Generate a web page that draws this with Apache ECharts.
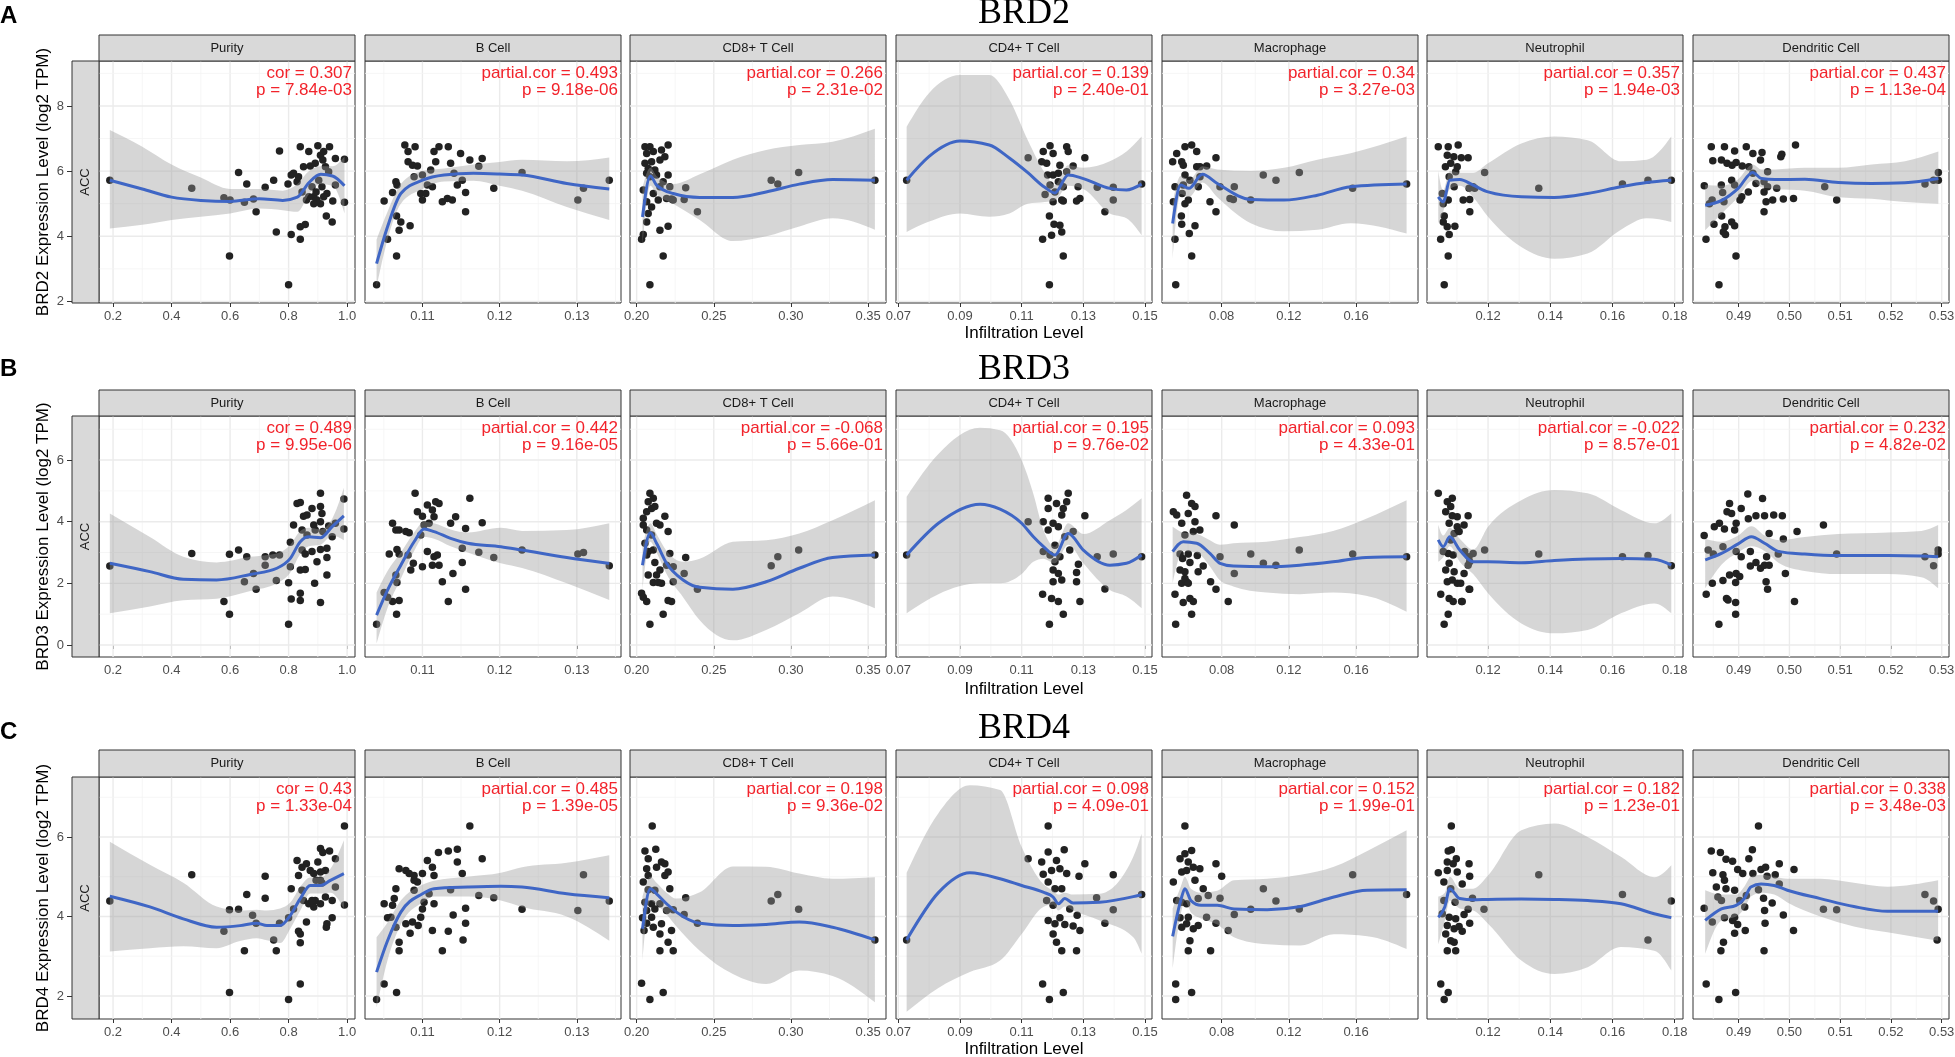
<!DOCTYPE html>
<html><head><meta charset="utf-8">
<script src="https://cdn.jsdelivr.net/npm/echarts@6/dist/echarts.min.js"></script>
<style>html,body{margin:0;padding:0;background:#fff}#c{width:1955px;height:1057px}</style>
</head><body><div id="c"></div>
<script>
// ---------- labels ----------
const genes = ['BRD2', 'BRD3', 'BRD4'];
const rowLetters = ['A', 'B', 'C'];
const cells = ['Purity', 'B Cell', 'CD8+ T Cell', 'CD4+ T Cell', 'Macrophage', 'Neutrophil', 'Dendritic Cell'];
const corA = [['cor = 0.307','p = 7.84e-03'],['partial.cor = 0.493','p = 9.18e-06'],['partial.cor = 0.266','p = 2.31e-02'],['partial.cor = 0.139','p = 2.40e-01'],['partial.cor = 0.34','p = 3.27e-03'],['partial.cor = 0.357','p = 1.94e-03'],['partial.cor = 0.437','p = 1.13e-04']];
const corB = [['cor = 0.489','p = 9.95e-06'],['partial.cor = 0.442','p = 9.16e-05'],['partial.cor = -0.068','p = 5.66e-01'],['partial.cor = 0.195','p = 9.76e-02'],['partial.cor = 0.093','p = 4.33e-01'],['partial.cor = -0.022','p = 8.57e-01'],['partial.cor = 0.232','p = 4.82e-02']];
const corC = [['cor = 0.43','p = 1.33e-04'],['partial.cor = 0.485','p = 1.39e-05'],['partial.cor = 0.198','p = 9.36e-02'],['partial.cor = 0.098','p = 4.09e-01'],['partial.cor = 0.152','p = 1.99e-01'],['partial.cor = 0.182','p = 1.23e-01'],['partial.cor = 0.338','p = 3.48e-03']];

// ---------- axes ----------
const xRanges = [[0.152,1.027],[0.10256,0.13572],[0.1957,0.3616],[0.06925,0.15227],[0.04446,0.1969],[0.10038,0.18266],[0.481,0.53144]];
const xTicks = [[0.2,0.4,0.6,0.8,1.0],[0.11,0.12,0.13],[0.20,0.25,0.30,0.35],[0.07,0.09,0.11,0.13,0.15],[0.08,0.12,0.16],[0.12,0.14,0.16,0.18],[0.49,0.50,0.51,0.52,0.53]];
const xDecimals = [1,2,2,2,2,2,2];
const yRanges = [[1.95,9.38],[-0.39,7.43],[1.42,7.51]];
const yTicks = [[2,4,6,8],[0,2,4,6],[2,4,6]];

// ---------- BRD2 (row A) : points [x,y], fits [x, fit, lower, upper] ----------
const a0pts = [[0.189,5.72],[0.469,5.47],[0.598,3.39],[0.629,5.96],[0.579,5.18],[0.6,5.11],[0.649,5.04],[0.657,5.6],[0.68,5.14],[0.689,4.75],[0.72,5.5],[0.749,5.72],[0.769,6.62],[0.758,4.13],[0.8,2.51],[0.809,4.05],[0.84,3.91],[0.84,4.29],[0.857,4.36],[0.798,5.6],[0.809,5.88],[0.84,6.75],[0.869,6.6],[0.9,6.78],[0.94,6.75],[0.96,6.39],[0.991,6.36],[0.991,5.04],[0.951,5.08],[0.929,4.62],[0.949,4.44],[0.909,5.0],[0.861,5.11],[0.886,5.21],[0.846,5.36],[0.829,5.67],[0.851,6.13],[0.874,6.16],[0.891,6.24],[0.909,6.49],[0.92,6.6],[0.926,6.13],[0.903,5.72],[0.914,5.52],[0.931,5.31],[0.96,5.57],[0.937,5.98],[0.88,5.52],[0.894,5.36],[0.869,5.21],[0.817,5.93],[0.834,5.83],[0.897,5.11],[0.92,5.21],[0.886,5.0],[0.917,6.34]];
const a0fit = [[0.189,5.72,4.24,7.26],[0.3,5.45,4.35,6.75],[0.4,5.2,4.5,6.2],[0.5,5.1,4.6,5.8],[0.6,5.07,4.7,5.45],[0.7,5.15,4.85,5.45],[0.78,5.1,4.8,5.4],[0.83,5.2,4.75,5.6],[0.87,5.65,5.3,6.0],[0.91,5.9,5.6,6.15],[0.95,5.85,5.55,6.15],[0.991,5.55,4.7,6.45]];
const a1pts = [[0.10406,2.51],[0.10504,5.08],[0.10548,3.91],[0.10665,3.39],[0.10665,4.62],[0.10698,4.18],[0.1072,4.44],[0.1084,4.32],[0.10613,5.34],[0.10656,5.67],[0.1067,5.57],[0.10772,6.8],[0.10814,6.6],[0.10905,6.75],[0.10814,6.29],[0.10871,6.18],[0.10935,6.16],[0.11,5.88],[0.10892,5.83],[0.10978,5.31],[0.11,5.11],[0.11043,5.31],[0.11129,5.52],[0.1115,6.6],[0.11214,6.75],[0.11335,6.75],[0.11172,6.29],[0.11107,6.03],[0.11258,5.06],[0.11323,5.16],[0.11387,5.11],[0.11365,6.24],[0.11494,6.54],[0.11452,5.57],[0.11559,5.34],[0.11559,4.75],[0.11614,6.34],[0.11774,6.39],[0.1173,6.15],[0.11516,5.72],[0.11924,5.47],[0.11409,5.93],[0.11064,5.57],[0.1229,5.96],[0.13013,5.11],[0.13086,5.47],[0.1342,5.72]];
const a1fit = [[0.10406,3.16,2.45,3.9],[0.10548,4.29,3.9,4.75],[0.1072,5.31,5.0,5.6],[0.11,5.72,5.45,6.0],[0.1128,5.88,5.68,6.08],[0.1166,5.93,5.7,6.2],[0.12,5.91,5.55,6.28],[0.1229,5.88,5.4,6.35],[0.1287,5.62,4.9,6.3],[0.1342,5.45,4.5,6.42]];
const a2pts = [[0.2086,2.51],[0.2172,3.39],[0.2032,3.91],[0.2043,4.05],[0.2151,4.18],[0.2204,4.31],[0.2065,4.44],[0.2075,4.7],[0.2065,5.06],[0.2043,5.42],[0.2108,5.31],[0.214,5.11],[0.2194,5.16],[0.2237,5.11],[0.2215,5.52],[0.2172,5.67],[0.2086,5.83],[0.2065,5.93],[0.2129,5.88],[0.2204,5.88],[0.2054,6.24],[0.2097,6.29],[0.2151,6.34],[0.2183,6.44],[0.2065,6.54],[0.2108,6.6],[0.2161,6.65],[0.2054,6.75],[0.2086,6.75],[0.2204,6.8],[0.2075,6.08],[0.2118,6.03],[0.2318,5.49],[0.2308,5.13],[0.2394,4.75],[0.2226,5.14],[0.2872,5.72],[0.2915,5.6],[0.305,5.96],[0.3544,5.72],[0.2151,5.52],[0.2097,4.9]];
const a2fit = [[0.2038,4.59,3.7,5.5],[0.2089,5.85,5.55,6.1],[0.2129,5.57,5.3,5.85],[0.2237,5.31,5.0,5.6],[0.2409,5.19,4.5,5.9],[0.2624,5.19,3.85,6.35],[0.2839,5.36,4.0,6.65],[0.3054,5.6,4.3,6.8],[0.327,5.74,4.55,6.9],[0.3544,5.72,4.2,7.3]];
const a3pts = [[0.0727,5.72],[0.1121,6.41],[0.117,6.6],[0.1192,6.78],[0.1202,6.54],[0.1181,6.24],[0.1165,6.29],[0.1224,6.18],[0.1246,6.75],[0.1251,6.6],[0.1305,6.41],[0.1267,6.16],[0.1202,5.88],[0.1219,5.93],[0.1192,5.57],[0.1176,5.28],[0.1208,5.36],[0.1235,5.52],[0.123,5.11],[0.1235,5.08],[0.1202,5.06],[0.1283,5.52],[0.1289,5.16],[0.1278,5.08],[0.1345,5.5],[0.1397,5.11],[0.1397,5.5],[0.137,4.75],[0.1489,5.6],[0.119,4.62],[0.1205,4.37],[0.1224,4.34],[0.123,4.13],[0.1197,4.03],[0.1168,3.91],[0.1235,3.39],[0.119,2.51],[0.1219,5.67],[0.1184,5.88],[0.1246,5.98]];
const a3fit = [[0.0727,5.72,4.13,7.36],[0.08,6.45,4.45,8.4],[0.09,6.92,4.7,8.95],[0.0995,6.8,4.6,8.95],[0.106,6.4,4.7,8.2],[0.112,5.95,5.0,6.95],[0.1175,5.5,5.05,5.95],[0.1208,5.33,5.1,5.57],[0.1251,5.88,5.55,6.18],[0.13,5.77,5.45,6.1],[0.1386,5.47,4.7,6.3],[0.144,5.42,4.55,6.6],[0.1489,5.6,4.03,7.06]];
const a4pts = [[0.05262,2.51],[0.06214,3.39],[0.0522,3.91],[0.06071,4.08],[0.06411,4.32],[0.05619,4.37],[0.05599,4.62],[0.0512,5.06],[0.0522,5.52],[0.0508,6.29],[0.05321,6.54],[0.05815,6.75],[0.06214,6.8],[0.06512,6.6],[0.05619,6.29],[0.05714,6.18],[0.06512,6.13],[0.05815,5.88],[0.06708,6.13],[0.07107,6.16],[0.0766,6.41],[0.05714,5.57],[0.05646,5.31],[0.06012,5.11],[0.05815,5.0],[0.06607,5.52],[0.07304,5.06],[0.0766,4.75],[0.07899,5.52],[0.08751,5.52],[0.08494,5.16],[0.08693,5.13],[0.09726,5.11],[0.10476,5.88],[0.11232,5.72],[0.12623,5.96],[0.15797,5.47],[0.19012,5.6],[0.06108,5.72],[0.06707,5.83]];
const a4fit = [[0.0508,4.39,3.3,5.0],[0.0556,5.57,5.3,5.85],[0.0605,5.47,5.2,5.72],[0.0685,5.9,5.65,6.15],[0.0774,5.62,5.2,6.05],[0.0973,5.13,4.4,6.0],[0.1171,5.11,4.15,6.1],[0.137,5.26,4.2,6.35],[0.1568,5.52,4.4,6.55],[0.1901,5.6,4.08,7.06]];
const a5pts = [[0.10592,2.51],[0.1072,3.39],[0.10477,3.91],[0.10752,4.05],[0.10688,4.29],[0.10934,4.31],[0.1056,4.44],[0.10592,4.62],[0.11414,4.75],[0.1056,5.0],[0.1072,5.11],[0.112,5.11],[0.1141,5.13],[0.1053,5.31],[0.1091,5.52],[0.104,6.75],[0.1072,6.75],[0.1104,6.8],[0.1069,6.49],[0.109,6.44],[0.1114,6.41],[0.1136,6.41],[0.108,6.24],[0.1101,6.13],[0.1075,5.83],[0.1096,5.98],[0.1189,5.96],[0.1152,5.52],[0.1063,6.13],[0.1363,5.47],[0.1632,5.6],[0.1714,5.72],[0.1789,5.72],[0.1139,5.47],[0.1157,5.47]];
const a5fit = [[0.104,5.21,4.4,6.0],[0.1056,5.06,4.75,5.4],[0.1077,5.72,5.45,6.0],[0.1109,5.74,5.55,5.95],[0.1152,5.57,5.2,5.95],[0.12,5.36,4.6,6.24],[0.1307,5.21,3.67,6.85],[0.1413,5.19,3.31,7.06],[0.152,5.31,3.47,6.95],[0.1627,5.52,4.2,6.3],[0.171,5.65,4.55,6.35],[0.1789,5.72,4.44,7.06]];
const a6pts = [[0.48322,5.55],[0.48356,3.91],[0.48612,2.51],[0.48513,4.37],[0.48665,4.62],[0.48697,4.13],[0.4873,4.29],[0.4874,4.05],[0.48862,4.44],[0.4892,4.32],[0.48947,3.39],[0.48477,5.11],[0.48424,5.0],[0.4871,5.06],[0.48658,5.57],[0.48684,5.34],[0.48862,5.72],[0.4892,5.57],[0.49026,5.11],[0.4906,5.21],[0.4919,5.36],[0.4846,6.75],[0.4872,6.75],[0.4892,6.62],[0.4915,6.75],[0.4928,6.54],[0.4946,6.57],[0.4943,6.34],[0.4849,6.32],[0.4866,6.34],[0.4877,6.24],[0.4887,6.18],[0.4895,6.26],[0.4907,6.16],[0.492,6.13],[0.4928,5.93],[0.4934,5.62],[0.495,5.67],[0.4957,5.52],[0.495,5.36],[0.4954,5.06],[0.4967,5.11],[0.495,4.75],[0.4988,5.14],[0.5008,5.16],[0.4983,6.44],[0.4985,6.52],[0.5012,6.8],[0.4957,5.98],[0.4975,5.47],[0.50695,5.52],[0.50931,5.11],[0.52671,5.6],[0.5284,5.72],[0.52934,5.96],[0.52934,5.72]];
const a6fit = [[0.4834,4.95,4.18,5.57],[0.48665,5.1,4.7,5.55],[0.4899,5.47,5.2,5.75],[0.49276,5.96,5.7,6.2],[0.4945,5.77,5.5,6.05],[0.4971,5.74,5.45,6.05],[0.50306,5.75,5.4,6.1],[0.50963,5.65,5.2,6.1],[0.51621,5.62,5.15,6.2],[0.52277,5.64,5.05,6.3],[0.52934,5.77,5.0,6.6]];

// ---------- BRD3 (row B) ----------
const b0pts = [[0.189,2.56],[0.469,2.97],[0.579,1.41],[0.598,1.0],[0.598,2.94],[0.629,3.08],[0.657,2.86],[0.649,2.05],[0.68,2.32],[0.689,1.81],[0.72,2.86],[0.72,2.59],[0.746,2.92],[0.769,2.92],[0.758,2.09],[0.8,0.67],[0.8,2.02],[0.809,1.49],[0.84,1.68],[0.84,1.44],[0.84,2.43],[0.857,2.45],[0.817,3.89],[0.829,4.59],[0.84,4.62],[0.851,4.18],[0.863,4.22],[0.88,4.43],[0.909,4.92],[0.909,4.49],[0.914,4.27],[0.909,4.0],[0.989,4.74],[0.989,3.76],[0.949,3.51],[0.931,3.14],[0.931,2.84],[0.931,2.27],[0.897,2.7],[0.889,2.0],[0.909,1.38],[0.88,3.03],[0.846,3.08],[0.857,2.95],[0.806,2.54],[0.846,3.73],[0.863,3.57],[0.891,3.73],[0.917,3.68],[0.937,3.86],[0.96,3.95],[0.886,3.89],[0.909,3.1],[0.806,3.33]];
const b0fit = [[0.189,2.65,1.03,4.27],[0.326,2.38,1.25,3.5],[0.44,2.13,1.45,2.86],[0.554,2.11,1.5,2.68],[0.669,2.29,1.75,2.86],[0.76,2.49,2.0,2.97],[0.806,2.81,2.35,3.25],[0.84,3.35,2.95,3.7],[0.869,3.51,3.2,3.8],[0.909,3.48,3.25,3.75],[0.949,3.84,3.55,4.1],[0.989,4.19,3.4,5.1]];
const b1pts = [[0.10406,0.67],[0.10504,1.7],[0.10548,1.55],[0.10665,1.0],[0.10613,1.41],[0.10698,1.44],[0.1067,2.03],[0.10656,2.27],[0.10698,2.95],[0.1057,2.95],[0.1067,3.1],[0.10613,3.95],[0.10656,3.73],[0.10698,3.73],[0.10785,3.68],[0.10828,3.64],[0.10814,2.92],[0.10849,2.43],[0.10882,2.65],[0.10905,4.92],[0.10935,4.32],[0.11,4.18],[0.11064,4.54],[0.11129,4.38],[0.11172,4.65],[0.11215,4.59],[0.1115,4.16],[0.11086,3.95],[0.11021,3.89],[0.10978,3.57],[0.11,2.54],[0.11064,3.03],[0.1115,2.86],[0.11129,2.59],[0.11215,2.59],[0.11193,2.92],[0.11258,2.05],[0.11335,1.41],[0.11395,2.32],[0.11365,3.95],[0.1143,4.16],[0.11516,3.14],[0.11516,2.68],[0.11559,1.81],[0.11614,4.76],[0.11774,3.97],[0.1173,3.01],[0.11924,2.84],[0.11559,3.78],[0.1229,3.08],[0.13013,2.95],[0.13086,3.0],[0.1342,2.57]];
const b1fit = [[0.10406,0.97,0.05,1.7],[0.10548,1.78,1.2,2.4],[0.1072,2.59,2.15,3.0],[0.10892,3.35,3.05,3.65],[0.11021,3.76,3.5,4.0],[0.1115,3.68,3.45,3.95],[0.11365,3.46,3.2,3.75],[0.11587,3.3,3.0,3.65],[0.12016,3.19,2.65,3.8],[0.1229,3.08,2.5,3.7],[0.1287,2.84,2.0,3.73],[0.1342,2.65,1.46,3.95]];
const b2pts = [[0.2086,0.67],[0.2172,1.0],[0.2032,1.68],[0.2043,1.55],[0.2065,1.41],[0.2204,1.44],[0.2226,1.41],[0.2108,2.03],[0.214,2.03],[0.2161,2.0],[0.2237,2.05],[0.2075,2.27],[0.2129,2.27],[0.2151,2.43],[0.2118,2.68],[0.2194,2.59],[0.2237,2.54],[0.2308,2.32],[0.2394,1.81],[0.2318,2.84],[0.2215,2.97],[0.2075,3.03],[0.2108,3.08],[0.2054,3.3],[0.2097,3.57],[0.2065,3.73],[0.2043,3.89],[0.2129,3.95],[0.2183,4.18],[0.2065,4.32],[0.2043,4.11],[0.2097,4.43],[0.2118,4.49],[0.2075,4.65],[0.2086,4.92],[0.2108,4.76],[0.2204,3.68],[0.2151,3.89],[0.2065,2.92],[0.2872,2.57],[0.2915,2.86],[0.305,3.08],[0.3544,2.92]];
const b2fit = [[0.2038,2.59,1.8,3.2],[0.2089,3.64,3.35,3.95],[0.2129,3.3,3.0,3.6],[0.2194,2.65,2.3,3.05],[0.2301,2.11,1.55,2.7],[0.2409,1.87,0.8,2.8],[0.2624,1.81,0.15,3.35],[0.2839,2.05,0.49,3.4],[0.3054,2.49,1.03,3.62],[0.327,2.84,1.57,4.05],[0.3544,2.92,1.19,4.7]];
const b3pts = [[0.0727,2.92],[0.1121,4.0],[0.117,4.0],[0.1186,4.76],[0.1213,4.59],[0.1235,4.43],[0.1251,4.92],[0.1246,4.65],[0.123,4.22],[0.1186,4.43],[0.1305,4.19],[0.1267,3.68],[0.1186,3.73],[0.1202,3.95],[0.1219,3.84],[0.117,3.03],[0.1192,2.92],[0.1208,2.7],[0.1224,2.86],[0.1256,3.08],[0.1202,2.43],[0.1219,2.32],[0.1202,2.05],[0.123,2.11],[0.1284,2.62],[0.1278,2.35],[0.1278,2.05],[0.1168,1.65],[0.1197,1.51],[0.1219,1.41],[0.1289,1.41],[0.1235,1.0],[0.119,0.67],[0.1345,2.86],[0.1397,2.95],[0.137,1.82],[0.1489,2.86],[0.1208,3.24],[0.124,3.51]];
const b3fit = [[0.0727,2.92,1.03,4.81],[0.083,3.95,1.65,6.2],[0.0965,4.57,2.0,7.05],[0.103,4.41,2.0,6.97],[0.11,3.95,2.3,6.0],[0.1138,3.51,2.7,4.9],[0.117,3.2,2.8,3.75],[0.1208,2.92,2.65,3.19],[0.1251,3.62,3.25,3.95],[0.13,3.08,2.65,3.6],[0.1386,2.59,1.78,4.05],[0.144,2.65,1.57,4.38],[0.1489,2.92,1.19,4.76]];
const b4pts = [[0.0526,0.67],[0.0621,1.0],[0.0522,1.65],[0.0571,1.38],[0.0611,1.51],[0.0631,1.41],[0.0562,2.0],[0.0591,2.05],[0.0581,2.16],[0.0601,2.0],[0.0552,2.43],[0.0581,2.38],[0.0611,2.68],[0.0567,2.81],[0.0552,2.95],[0.0601,2.95],[0.066,2.38],[0.069,2.56],[0.0734,2.05],[0.0766,1.81],[0.0839,1.41],[0.0875,2.32],[0.079,2.86],[0.0655,2.9],[0.0512,4.32],[0.0532,4.22],[0.0562,3.95],[0.0591,4.86],[0.0621,4.59],[0.0641,4.49],[0.0601,4.27],[0.0581,3.57],[0.0631,3.68],[0.067,3.73],[0.0641,4.0],[0.0766,4.19],[0.0875,3.89],[0.0973,2.95],[0.1048,2.65],[0.1123,2.59],[0.1262,3.08],[0.158,2.95],[0.1901,2.86]];
const b4fit = [[0.0508,3.03,2.0,3.84],[0.0571,3.35,3.05,3.65],[0.0651,3.3,3.0,3.6],[0.073,2.97,2.55,3.4],[0.079,2.65,2.1,3.25],[0.0869,2.56,1.9,3.3],[0.1067,2.54,1.7,3.35],[0.1265,2.59,1.65,3.5],[0.1463,2.7,1.7,3.7],[0.166,2.84,1.6,4.1],[0.1901,2.86,1.08,4.7]];
const b5pts = [[0.1059,0.67],[0.1072,1.0],[0.1048,1.65],[0.1075,1.51],[0.1088,1.41],[0.1115,1.41],[0.1141,1.81],[0.1069,2.05],[0.1085,2.11],[0.1101,2.0],[0.1112,2.0],[0.1064,2.43],[0.1091,2.38],[0.1123,2.32],[0.1075,2.65],[0.1136,2.59],[0.1141,2.7],[0.1056,3.03],[0.1072,2.97],[0.1088,2.92],[0.1125,3.03],[0.1152,2.97],[0.1189,3.08],[0.104,4.92],[0.1069,4.65],[0.1085,4.76],[0.108,4.49],[0.1064,4.32],[0.1085,4.19],[0.1101,4.16],[0.1136,4.19],[0.1075,3.95],[0.1101,3.84],[0.1091,3.62],[0.108,3.41],[0.1107,3.68],[0.1123,3.89],[0.1363,2.95],[0.1632,2.86],[0.1714,2.9],[0.1789,2.57],[0.1139,2.86],[0.1139,1.81],[0.1117,1.41]];
const b5fit = [[0.104,3.41,2.7,3.9],[0.1056,3.19,2.85,3.55],[0.1077,3.51,3.2,3.8],[0.1109,3.08,2.7,3.45],[0.1152,2.7,2.3,3.1],[0.12,2.7,1.68,3.84],[0.1307,2.67,0.7,4.7],[0.1413,2.74,0.38,5.03],[0.152,2.79,0.49,4.92],[0.1627,2.81,1.03,4.38],[0.1734,2.78,1.35,3.95],[0.1789,2.59,1.03,4.27]];
const b6pts = [[0.4832,3.55],[0.4836,1.65],[0.4861,0.67],[0.4848,2.0],[0.4869,2.09],[0.4882,2.27],[0.4895,2.32],[0.4902,2.22],[0.4876,1.51],[0.4879,1.46],[0.4894,1.38],[0.4894,1.0],[0.4894,2.03],[0.484,3.08],[0.485,2.95],[0.4869,3.19],[0.4895,3.03],[0.4905,2.86],[0.4923,3.03],[0.4923,2.56],[0.4934,2.68],[0.4943,2.49],[0.4951,2.59],[0.496,2.59],[0.4955,2.86],[0.4978,2.95],[0.4992,2.32],[0.4954,2.05],[0.4957,1.81],[0.501,1.41],[0.4852,3.84],[0.4862,3.95],[0.4872,3.76],[0.4882,4.59],[0.4877,4.32],[0.4886,4.27],[0.4895,3.95],[0.4892,3.73],[0.4905,4.43],[0.4918,4.9],[0.4947,4.75],[0.4919,4.1],[0.4934,4.19],[0.4951,4.19],[0.4969,4.22],[0.4986,4.19],[0.496,3.62],[0.4988,3.44],[0.5015,3.68],[0.5067,3.89],[0.5093,2.95],[0.5267,2.86],[0.5284,2.57],[0.5293,3.08],[0.5293,2.95]];
const b6fit = [[0.4834,2.76,1.84,3.45],[0.4866,2.97,2.6,3.35],[0.4899,3.28,3.0,3.55],[0.4925,3.51,3.2,3.85],[0.4951,3.3,3.05,3.55],[0.498,3.03,2.65,3.4],[0.503,2.95,2.4,3.5],[0.5096,2.9,2.3,3.6],[0.5194,2.9,2.3,3.65],[0.526,2.89,2.2,3.7],[0.5293,2.86,1.84,3.89]];

// ---------- BRD4 (row C) ----------
const c0pts = [[0.189,4.39],[0.469,5.05],[0.598,2.09],[0.579,3.63],[0.598,4.17],[0.629,4.18],[0.649,3.14],[0.657,4.55],[0.677,4.03],[0.689,3.83],[0.72,5.01],[0.72,4.46],[0.749,3.41],[0.758,3.14],[0.769,3.83],[0.8,1.91],[0.8,3.97],[0.809,4.7],[0.829,5.41],[0.84,2.3],[0.84,3.34],[0.834,3.63],[0.84,3.56],[0.861,3.86],[0.834,5.03],[0.846,5.24],[0.861,5.33],[0.874,5.16],[0.9,5.37],[0.886,5.08],[0.909,5.71],[0.917,5.61],[0.94,5.65],[0.96,5.45],[0.991,6.28],[0.926,5.16],[0.909,5.12],[0.894,4.91],[0.914,4.84],[0.846,4.66],[0.851,4.4],[0.869,4.32],[0.891,4.4],[0.886,4.24],[0.909,4.32],[0.926,4.49],[0.949,4.4],[0.96,4.74],[0.991,4.29],[0.949,3.97],[0.931,3.82],[0.929,3.73],[0.88,4.4],[0.909,4.91],[0.817,4.19]];
const c0fit = [[0.189,4.51,3.12,5.88],[0.326,4.24,3.2,5.3],[0.44,3.94,3.25,4.85],[0.554,3.73,3.2,4.25],[0.634,3.77,3.38,4.15],[0.691,3.83,3.45,4.17],[0.726,3.77,3.4,4.15],[0.771,3.77,3.33,4.2],[0.806,4.03,3.7,4.35],[0.84,4.45,4.15,4.75],[0.874,4.78,4.58,4.98],[0.909,4.78,4.58,4.98],[0.943,4.91,4.6,5.2],[0.989,5.08,4.2,5.92]];
const c1pts = [[0.10406,1.91],[0.10504,2.3],[0.10665,2.09],[0.10504,4.32],[0.10548,3.97],[0.10613,4.28],[0.10656,4.7],[0.10698,5.2],[0.10785,5.16],[0.10828,5.08],[0.10892,5.03],[0.10935,4.87],[0.11,5.08],[0.11064,5.41],[0.11129,5.24],[0.1115,5.03],[0.11207,5.61],[0.11335,5.65],[0.11452,5.69],[0.11452,5.37],[0.11614,6.28],[0.11774,5.45],[0.11516,5.08],[0.11365,4.67],[0.11559,4.21],[0.11398,4.04],[0.11559,3.83],[0.11526,3.41],[0.11335,3.63],[0.11129,3.65],[0.11258,3.14],[0.10698,3.14],[0.10698,3.35],[0.10656,3.73],[0.10785,3.82],[0.1084,3.58],[0.10871,3.86],[0.10945,3.77],[0.10978,3.98],[0.11,4.19],[0.11021,4.36],[0.10892,4.66],[0.10892,4.91],[0.11086,4.57],[0.1115,4.32],[0.10635,4.45],[0.10592,3.98],[0.1173,4.53],[0.11924,4.47],[0.1229,4.18],[0.13013,4.15],[0.13086,5.05],[0.1342,4.39]];
const c1fit = [[0.10406,2.6,1.71,3.48],[0.10548,3.39,2.9,3.85],[0.1072,4.11,3.8,4.4],[0.11,4.57,4.35,4.8],[0.1115,4.7,4.5,4.9],[0.11587,4.74,4.5,5.0],[0.12016,4.76,4.4,5.1],[0.1229,4.74,4.24,5.24],[0.1287,4.57,4.0,5.35],[0.1342,4.47,3.39,5.54]];
const c2pts = [[0.2032,2.32],[0.2086,1.91],[0.2172,2.09],[0.2048,3.65],[0.2151,3.14],[0.2237,3.14],[0.2204,3.35],[0.2226,3.65],[0.2151,3.56],[0.2108,3.73],[0.2065,3.83],[0.2097,3.98],[0.2038,3.97],[0.2161,3.82],[0.2118,4.19],[0.2065,4.15],[0.2194,4.15],[0.2237,4.17],[0.2308,4.05],[0.2394,3.83],[0.2318,4.47],[0.2054,4.36],[0.2097,4.32],[0.2151,4.32],[0.2043,4.87],[0.2075,4.67],[0.2118,4.66],[0.2215,4.7],[0.2075,5.03],[0.2183,5.03],[0.2204,5.12],[0.2065,5.2],[0.2129,5.24],[0.2161,5.37],[0.2075,5.45],[0.2183,5.33],[0.2054,5.65],[0.2124,5.69],[0.2101,6.28],[0.2872,4.39],[0.2915,4.55],[0.305,4.18],[0.3544,3.41]];
const c2fit = [[0.2038,3.69,2.9,4.5],[0.2089,4.7,4.4,5.0],[0.2129,4.57,4.3,4.85],[0.2194,4.32,4.05,4.6],[0.2258,4.11,3.75,4.45],[0.2409,3.83,3.14,4.61],[0.2624,3.77,2.55,5.26],[0.2839,3.8,2.3,5.25],[0.3054,3.86,2.64,5.08],[0.327,3.73,2.5,4.95],[0.3544,3.41,1.84,4.99]];
const c3pts = [[0.0727,3.41],[0.1121,5.45],[0.1186,6.28],[0.1165,5.37],[0.1186,5.62],[0.1213,5.41],[0.1238,5.68],[0.1305,5.33],[0.117,5.06],[0.1197,5.16],[0.1224,5.2],[0.1246,5.08],[0.1286,5.01],[0.1186,4.87],[0.1208,4.7],[0.123,4.7],[0.1181,4.4],[0.1202,4.28],[0.1256,4.19],[0.1343,4.47],[0.1397,4.17],[0.1397,5.05],[0.128,4.03],[0.137,3.83],[0.1186,3.9],[0.1208,3.82],[0.1224,3.97],[0.124,3.8],[0.1202,3.56],[0.1267,3.76],[0.1289,3.65],[0.1213,3.35],[0.123,3.14],[0.1278,3.14],[0.1168,2.3],[0.119,1.91],[0.1235,2.09],[0.1489,4.55]];
const c3fit = [[0.0727,3.41,1.6,5.1],[0.083,4.6,2.2,6.6],[0.0932,5.1,2.6,7.3],[0.103,4.95,2.89,7.18],[0.11,4.78,3.56,5.75],[0.117,4.61,4.24,4.82],[0.1202,4.49,4.3,4.65],[0.1219,4.32,4.15,4.55],[0.124,4.45,4.25,4.6],[0.1267,4.34,4.15,4.55],[0.1353,4.36,3.9,4.57],[0.1462,4.5,3.48,5.5],[0.1489,4.55,3.06,6.08]];
const c4pts = [[0.0581,6.28],[0.0526,2.3],[0.0526,1.91],[0.0621,2.09],[0.0601,3.14],[0.0734,3.14],[0.0611,3.39],[0.0839,3.65],[0.066,3.77],[0.0631,3.69],[0.0591,3.82],[0.0562,3.73],[0.0552,3.97],[0.0601,3.98],[0.0766,3.83],[0.0875,4.05],[0.071,3.98],[0.0512,4.87],[0.0532,4.4],[0.0562,4.36],[0.0591,4.32],[0.066,4.45],[0.069,4.7],[0.072,4.53],[0.079,4.46],[0.0562,5.12],[0.0591,5.16],[0.0631,5.24],[0.067,5.2],[0.0552,5.45],[0.0581,5.58],[0.0621,5.66],[0.0601,5.37],[0.0766,5.33],[0.08,5.01],[0.0641,4.91],[0.0973,4.18],[0.1048,4.7],[0.1123,4.39],[0.1262,4.19],[0.158,5.05],[0.1901,4.55]];
const c4fit = [[0.0508,3.5,2.7,4.2],[0.0556,4.4,4.05,4.75],[0.0581,4.7,4.4,5.0],[0.0617,4.4,4.1,4.7],[0.0677,4.28,3.95,4.6],[0.0774,4.28,3.8,4.65],[0.0873,4.19,3.48,4.91],[0.1071,4.17,3.3,4.95],[0.127,4.25,3.27,5.05],[0.1468,4.49,3.55,5.25],[0.1667,4.66,3.5,5.65],[0.1901,4.67,3.18,6.17]];
const c5pts = [[0.1082,6.28],[0.1072,5.65],[0.1082,5.68],[0.1098,5.45],[0.1069,5.37],[0.1088,5.33],[0.1139,5.33],[0.104,5.1],[0.1069,5.16],[0.1101,5.12],[0.1141,5.01],[0.1058,4.87],[0.1117,4.82],[0.108,4.7],[0.1058,4.4],[0.1094,4.36],[0.1136,4.18],[0.1053,4.07],[0.1075,3.98],[0.1096,3.94],[0.1123,4.05],[0.1141,3.83],[0.1069,3.77],[0.1091,3.69],[0.1107,3.75],[0.1064,3.56],[0.108,3.39],[0.1091,3.35],[0.1069,3.14],[0.1096,3.14],[0.1048,2.3],[0.1072,2.09],[0.1059,1.91],[0.1363,5.05],[0.1632,4.55],[0.1714,3.41],[0.1789,4.39],[0.1187,4.18],[0.115,4.46],[0.1117,3.63]];
const c5fit = [[0.104,3.98,3.3,4.5],[0.1061,4.24,3.9,4.6],[0.1077,4.7,4.4,5.0],[0.1109,4.45,4.2,4.7],[0.1152,4.42,4.15,4.7],[0.12,4.43,3.82,5.03],[0.1307,4.44,2.89,6.17],[0.1413,4.43,2.55,6.34],[0.152,4.4,2.72,6.0],[0.1627,4.32,3.23,5.5],[0.1734,4.07,3.14,4.99],[0.1789,3.97,2.64,5.29]];
const c6pts = [[0.4832,4.21],[0.4836,2.3],[0.4861,1.91],[0.4894,2.09],[0.4846,5.65],[0.4864,5.61],[0.4849,5.1],[0.4869,5.05],[0.4875,5.44],[0.4888,5.39],[0.4898,5.18],[0.4908,5.08],[0.492,5.45],[0.4927,5.68],[0.4939,6.28],[0.4944,5.18],[0.4953,5.24],[0.498,5.33],[0.5009,5.18],[0.4872,4.91],[0.4875,4.7],[0.4856,4.74],[0.4859,4.49],[0.4866,4.4],[0.4892,4.66],[0.4902,4.4],[0.4915,4.53],[0.4912,4.24],[0.4928,5.08],[0.4956,5.01],[0.4972,5.05],[0.498,4.82],[0.4939,4.67],[0.4949,4.46],[0.4966,4.34],[0.4951,4.15],[0.4952,3.83],[0.4988,4.04],[0.5008,3.65],[0.495,3.14],[0.4848,3.86],[0.4872,3.97],[0.4888,3.9],[0.4898,3.8],[0.4892,3.58],[0.4913,3.65],[0.487,3.35],[0.4865,3.14],[0.4892,3.98],[0.5067,4.18],[0.5093,4.17],[0.5267,4.55],[0.5284,4.39],[0.5293,4.18],[0.5291,3.41]];
const c6fit = [[0.4834,3.9,3.06,4.66],[0.4866,4.19,3.9,4.55],[0.4895,4.28,4.0,4.55],[0.4911,4.45,4.2,4.75],[0.4924,4.74,4.5,5.0],[0.4944,4.82,4.6,5.05],[0.497,4.78,4.55,5.0],[0.4996,4.66,4.35,4.95],[0.5061,4.45,4.0,4.95],[0.5127,4.25,3.75,4.85],[0.5193,4.13,3.6,4.75],[0.5293,4.13,3.39,4.91]];

const rowPts = [[a0pts,a1pts,a2pts,a3pts,a4pts,a5pts,a6pts],[b0pts,b1pts,b2pts,b3pts,b4pts,b5pts,b6pts],[c0pts,c1pts,c2pts,c3pts,c4pts,c5pts,c6pts]];
const rowFit = [[a0fit,a1fit,a2fit,a3fit,a4fit,a5fit,a6fit],[b0fit,b1fit,b2fit,b3fit,b4fit,b5fit,b6fit],[c0fit,c1fit,c2fit,c3fit,c4fit,c5fit,c6fit]];
const rowCor = [corA, corB, corC];

// ---------- layout / style ----------
const FONT = 'Liberation Sans, Arial, Helvetica, sans-serif';
const colLeft = [99, 365, 630, 896, 1162, 1427, 1693];
const panelW = 256;
const stripTop = [35, 390, 750];
const panelTop = [61, 416, 777];
const panelBottom = [303, 657, 1019];
const titleY = [14, 370, 729];
const letterY = [16, 369, 732];
const xTitleY = [333, 689, 1049];
const lineBlue = '#3f66c5';
const bandFill = 'rgba(153,153,153,0.4)';

function gridValues(ticks, range) {
  const step = ticks[1] - ticks[0];
  const out = [];
  ticks.forEach(t => out.push({ v: t, major: true }));
  for (let k = -1; k < ticks.length; k++) {
    const m = ticks[0] + step * (k + 0.5);
    if (m > range[0] && m < range[1]) out.push({ v: m, major: false });
  }
  return out;
}

// monotone cubic (x-monotone) bezier segments through pixel points
function monoSegments(p) {
  const n = p.length, h = [], s = [], m = new Array(n);
  for (let i = 0; i < n - 1; i++) { h[i] = p[i + 1][0] - p[i][0]; s[i] = h[i] ? (p[i + 1][1] - p[i][1]) / h[i] : 0; }
  for (let i = 1; i < n - 1; i++) {
    const q = (s[i - 1] * h[i] + s[i] * h[i - 1]) / (h[i - 1] + h[i]);
    m[i] = (Math.sign(s[i - 1]) + Math.sign(s[i])) * Math.min(Math.abs(s[i - 1]), Math.abs(s[i]), 0.5 * Math.abs(q)) || 0;
  }
  if (n === 2) { m[0] = s[0]; m[1] = s[0]; }
  else { m[0] = (3 * s[0] - m[1]) / 2; m[n - 1] = (3 * s[n - 2] - m[n - 2]) / 2; }
  const segs = [];
  for (let i = 0; i < n - 1; i++) {
    const d = h[i] / 3;
    segs.push([p[i], [p[i][0] + d, p[i][1] + m[i] * d], [p[i + 1][0] - d, p[i + 1][1] - m[i + 1] * d], p[i + 1]]);
  }
  return segs;
}
function f(v) { return v.toFixed(2); }
function curvePath(p) {
  const segs = monoSegments(p);
  let d = 'M' + f(p[0][0]) + ' ' + f(p[0][1]);
  segs.forEach(g => { d += 'C' + f(g[1][0]) + ' ' + f(g[1][1]) + ' ' + f(g[2][0]) + ' ' + f(g[2][1]) + ' ' + f(g[3][0]) + ' ' + f(g[3][1]); });
  return d;
}
function bandPath(up, lo) {
  let d = curvePath(up);
  const segs = monoSegments(lo);
  d += 'L' + f(lo[lo.length - 1][0]) + ' ' + f(lo[lo.length - 1][1]);
  for (let i = segs.length - 1; i >= 0; i--) {
    const g = segs[i];
    d += 'C' + f(g[2][0]) + ' ' + f(g[2][1]) + ' ' + f(g[1][0]) + ' ' + f(g[1][1]) + ' ' + f(g[0][0]) + ' ' + f(g[0][1]);
  }
  return d + 'Z';
}

const option = {
  animation: false,
  backgroundColor: '#ffffff',
  textStyle: { fontFamily: FONT },
  grid: [], xAxis: [], yAxis: [], series: [],
  graphic: { elements: [] }
};
const G = option.graphic.elements;

for (let r = 0; r < 3; r++) {
  const ph = panelBottom[r] - panelTop[r];
  G.push({ type: 'text', x: 1024, y: titleY[r], z: 20, style: { text: genes[r], fill: '#000', fontSize: 36, fontFamily: 'Liberation Serif, Times New Roman, serif', align: 'center', verticalAlign: 'middle' } });
  G.push({ type: 'text', x: 0, y: letterY[r], z: 20, style: { text: rowLetters[r], fill: '#000', fontSize: 24, fontWeight: 'bold', fontFamily: FONT, align: 'left', verticalAlign: 'middle' } });
  G.push({ type: 'text', x: 43, y: (panelTop[r] + panelBottom[r]) / 2, rotation: Math.PI / 2, z: 20, style: { text: genes[r] + ' Expression Level (log2 TPM)', fill: '#000', fontSize: 17, fontFamily: FONT, align: 'center', verticalAlign: 'middle' } });
  G.push({ type: 'text', x: 1024, y: xTitleY[r], z: 20, style: { text: 'Infiltration Level', fill: '#000', fontSize: 17, fontFamily: FONT, align: 'center', verticalAlign: 'middle' } });
  G.push({ type: 'rect', z: 10, shape: { x: 72, y: panelTop[r], width: 27, height: ph }, style: { fill: '#d9d9d9', stroke: '#333', lineWidth: 1 } });
  G.push({ type: 'text', x: 85.5, y: (panelTop[r] + panelBottom[r]) / 2, rotation: Math.PI / 2, z: 11, style: { text: 'ACC', fill: '#1a1a1a', fontSize: 13, fontFamily: FONT, align: 'center', verticalAlign: 'middle' } });

  for (let c = 0; c < 7; c++) {
    const idx = r * 7 + c;
    const xr = xRanges[c], yr = yRanges[r];
    G.push({ type: 'rect', z: 10, shape: { x: colLeft[c], y: stripTop[r], width: panelW, height: panelTop[r] - stripTop[r] }, style: { fill: '#d9d9d9', stroke: '#333', lineWidth: 1 } });
    G.push({ type: 'text', z: 11, x: colLeft[c] + panelW / 2, y: (stripTop[r] + panelTop[r]) / 2, style: { text: cells[c], fill: '#1a1a1a', fontSize: 13, fontFamily: FONT, align: 'center', verticalAlign: 'middle' } });
    G.push({ type: 'text', z: 12, x: colLeft[c] + panelW - 3, y: panelTop[r] + 3.5, style: { text: rowCor[r][c].join('\n'), fill: '#f2232b', fontSize: 17, lineHeight: 17, fontFamily: FONT, align: 'right', verticalAlign: 'top' } });

    option.grid.push({ left: colLeft[c], top: panelTop[r], width: panelW, height: ph, show: true, borderColor: '#333', borderWidth: 1, backgroundColor: 'rgba(0,0,0,0)', containLabel: false, outerBoundsMode: 'none' });
    option.xAxis.push({
      type: 'value', gridIndex: idx, min: xr[0], max: xr[1],
      splitLine: { show: false }, axisLine: { show: false },
      axisTick: { show: true, customValues: xTicks[c], length: 4, lineStyle: { color: '#333', width: 1 } },
      axisLabel: { show: true, customValues: xTicks[c], formatter: v => Number(v).toFixed(xDecimals[c]), color: '#4d4d4d', fontSize: 13, margin: 7, fontFamily: FONT, hideOverlap: false, showMinLabel: true, showMaxLabel: true }
    });
    option.yAxis.push({
      type: 'value', gridIndex: idx, min: yr[0], max: yr[1], show: c === 0, offset: 27,
      splitLine: { show: false }, axisLine: { show: false },
      axisTick: { show: true, customValues: yTicks[r], length: 5, lineStyle: { color: '#333', width: 1 } },
      axisLabel: { show: true, customValues: yTicks[r], formatter: v => String(Math.round(v)), color: '#4d4d4d', fontSize: 13, margin: 8, fontFamily: FONT }
    });

    const xg = gridValues(xTicks[c], xr);
    const yg = gridValues(yTicks[r], yr);
    option.series.push({
      type: 'custom', xAxisIndex: idx, yAxisIndex: idx, z: 1, silent: true,
      data: [[xr[0], yr[0]]],
      renderItem: (params, api) => {
        const cs = params.coordSys;
        const children = [];
        xg.forEach(g => {
          const px = api.coord([g.v, yr[0]])[0];
          children.push({ type: 'line', shape: { x1: px, y1: cs.y, x2: px, y2: cs.y + cs.height }, style: { stroke: g.major ? '#ebebeb' : '#f4f4f4', lineWidth: g.major ? 1.4 : 0.8 } });
        });
        yg.forEach(g => {
          const py = api.coord([xr[0], g.v])[1];
          children.push({ type: 'line', shape: { x1: cs.x, y1: py, x2: cs.x + cs.width, y2: py }, style: { stroke: g.major ? '#ebebeb' : '#f4f4f4', lineWidth: g.major ? 1.4 : 0.8 } });
        });
        return { type: 'group', children };
      }
    });
    option.series.push({
      type: 'scatter', xAxisIndex: idx, yAxisIndex: idx, z: 2, silent: true,
      data: rowPts[r][c], symbol: 'circle', symbolSize: 7.5, itemStyle: { color: '#222', opacity: 1 }
    });
    const fit = rowFit[r][c];
    option.series.push({
      type: 'custom', xAxisIndex: idx, yAxisIndex: idx, z: 3, silent: true,
      data: [[fit[0][0], fit[0][1]]],
      clip: true,
      renderItem: (params, api) => {
        const up = fit.map(d => api.coord([d[0], d[3]]));
        const lo = fit.map(d => api.coord([d[0], d[2]]));
        const mid = fit.map(d => api.coord([d[0], d[1]]));
        return { type: 'group', children: [
          { type: 'path', shape: { pathData: bandPath(up, lo) }, style: { fill: bandFill, stroke: 'none' } },
          { type: 'path', shape: { pathData: curvePath(mid) }, style: { fill: 'none', stroke: lineBlue, lineWidth: 3, lineJoin: 'round', lineCap: 'butt' } }
        ] };
      }
    });
  }
}

const chart = echarts.init(document.getElementById('c'), null, { renderer: 'canvas', width: 1955, height: 1057 });
chart.setOption(option);
</script></body></html>
